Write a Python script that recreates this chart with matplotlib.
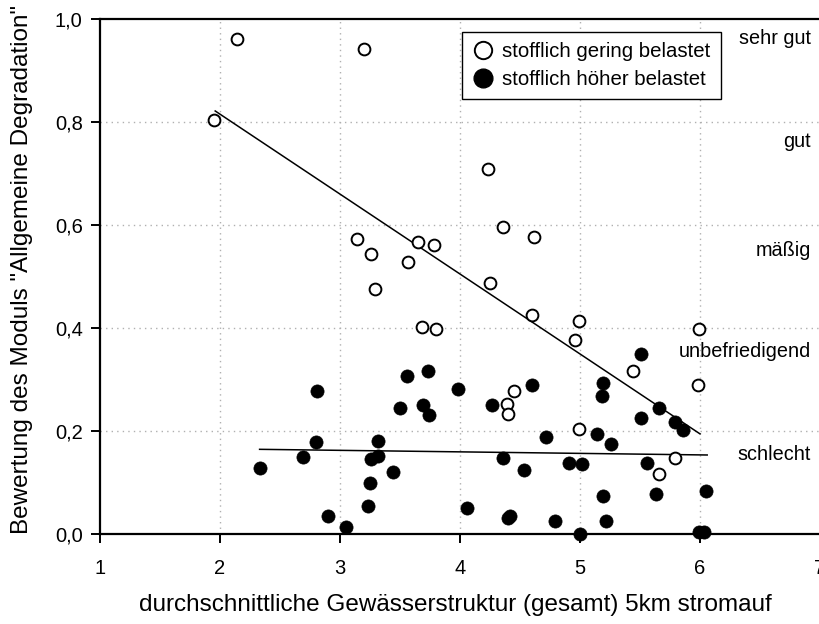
import matplotlib
matplotlib.use("Agg")
import matplotlib.pyplot as plt
from matplotlib.lines import Line2D

plt.rcParams['font.family'] = ['Liberation Sans', 'DejaVu Sans']

# ---- data ----
open_x = [1.95, 2.14, 3.20, 3.14, 3.26, 3.29, 3.57, 3.65, 3.78, 3.68, 3.80,
          4.36, 4.62, 4.25, 4.23, 4.60, 4.99, 4.96, 5.44, 4.45, 5.99, 5.98,
          4.39, 4.40, 4.99, 5.79, 5.66]
open_y = [0.804, 0.962, 0.942, 0.574, 0.545, 0.477, 0.528, 0.567, 0.562, 0.403, 0.399,
          0.596, 0.577, 0.487, 0.709, 0.425, 0.414, 0.377, 0.317, 0.278, 0.399, 0.289,
          0.253, 0.234, 0.204, 0.149, 0.117]

filled_x = [2.33, 2.69, 2.80, 2.81, 2.90, 3.05, 3.23, 3.25, 3.26, 3.32, 3.32,
            3.44, 3.50, 3.56, 3.69, 3.73, 3.74, 3.98, 4.06, 4.27, 4.36, 4.40,
            4.42, 4.53, 4.60, 4.72, 4.79, 4.91, 5.00, 5.02, 5.14, 5.18, 5.19,
            5.19, 5.22, 5.26, 5.51, 5.51, 5.56, 5.63, 5.66, 5.79, 5.86, 5.99,
            6.03, 6.05]
filled_y = [0.128, 0.151, 0.180, 0.278, 0.036, 0.015, 0.055, 0.100, 0.146, 0.152, 0.181,
            0.120, 0.245, 0.308, 0.252, 0.318, 0.232, 0.282, 0.052, 0.251, 0.148, 0.031,
            0.036, 0.125, 0.289, 0.188, 0.026, 0.138, 0.000, 0.136, 0.195, 0.269, 0.293,
            0.074, 0.026, 0.175, 0.351, 0.225, 0.139, 0.078, 0.245, 0.219, 0.203, 0.004,
            0.004, 0.084]

trend_open_x = [1.96, 6.00]
trend_open_y = [0.822, 0.195]
trend_filled_x = [2.33, 6.06]
trend_filled_y = [0.165, 0.154]

xticks = [1, 2, 3, 4, 5, 6, 7]
yticks = [0.0, 0.2, 0.4, 0.6, 0.8, 1.0]
ytick_labels = ['0,0', '0,2', '0,4', '0,6', '0,8', '1,0']

class_labels = ['sehr gut', 'gut', 'mäßig', 'unbefriedigend', 'schlecht']
class_y = [0.963, 0.762, 0.552, 0.355, 0.154]

legend_labels = ['stofflich gering belastet', 'stofflich höher belastet']

xlabel = 'durchschnittliche Gewässerstruktur (gesamt) 5km stromauf'
ylabel = 'Bewertung des Moduls "Allgemeine Degradation"'

# ---- figure ----
W, H = 819, 624
fig = plt.figure(figsize=(W / 100, H / 100), dpi=100)
ax = fig.add_axes([100 / W, 1 - 534.3 / H, 720 / W, 515 / H])

ax.set_xlim(1, 7)
ax.set_ylim(0, 1)

# grid
for gx in xticks[1:-1]:
    ax.axvline(gx, color='#b0b0b0', lw=1.0, ls=(0, (1, 3)), zorder=0)
for gy in yticks[1:-1]:
    ax.axhline(gy, color='#b0b0b0', lw=1.0, ls=(0, (1, 3)), zorder=0)

# trend lines
ax.plot(trend_open_x, trend_open_y, color='black', lw=1.1, zorder=2)
ax.plot(trend_filled_x, trend_filled_y, color='black', lw=1.1, zorder=2)

# points
ax.scatter(filled_x, filled_y, s=90, facecolor='black', edgecolor='black',
           linewidth=0.5, zorder=3, clip_on=False)
ax.scatter(open_x, open_y, s=72, facecolor='white', edgecolor='black',
           linewidth=1.4, zorder=4, clip_on=False)

# spines & ticks
ax.spines['right'].set_visible(False)
for sp in ['left', 'top', 'bottom']:
    ax.spines[sp].set_linewidth(1.6)
ax.set_xticks(xticks)
ax.set_xticklabels([str(v) for v in xticks])
ax.set_yticks(yticks)
ax.set_yticklabels(ytick_labels)
ax.tick_params(axis='both', direction='out', length=6.5, width=1.4, labelsize=14.5)
ax.tick_params(axis='y', pad=6)
ax.tick_params(axis='x', pad=11)

# class labels
for lab, yy in zip(class_labels, class_y):
    ax.text(6.925, yy, lab, ha='right', va='center', fontsize=14.3)

# axis labels
fig.text(455 / W, 1 - 605 / H, xlabel, ha='center', va='center', fontsize=17.5)
fig.text(22 / W, 1 - 270 / H, ylabel, ha='center', va='center', rotation=90, fontsize=17.5)

# legend
handles = [Line2D([], [], ls='none', marker='o', ms=12.5, mfc='white', mec='black', mew=1.4),
           Line2D([], [], ls='none', marker='o', ms=13.5, mfc='black', mec='black')]
leg = ax.legend(handles, legend_labels, loc='upper left',
                bbox_to_anchor=(462.3 / W, 1 - 31.7 / H), bbox_transform=fig.transFigure,
                borderaxespad=0, fontsize=14.7, frameon=True, fancybox=False,
                framealpha=1, edgecolor='black', handlelength=1.0, handletextpad=0.45,
                borderpad=0.5, labelspacing=0.45)
leg.get_frame().set_linewidth(1.0)

fig.savefig('out.png', dpi=100)
